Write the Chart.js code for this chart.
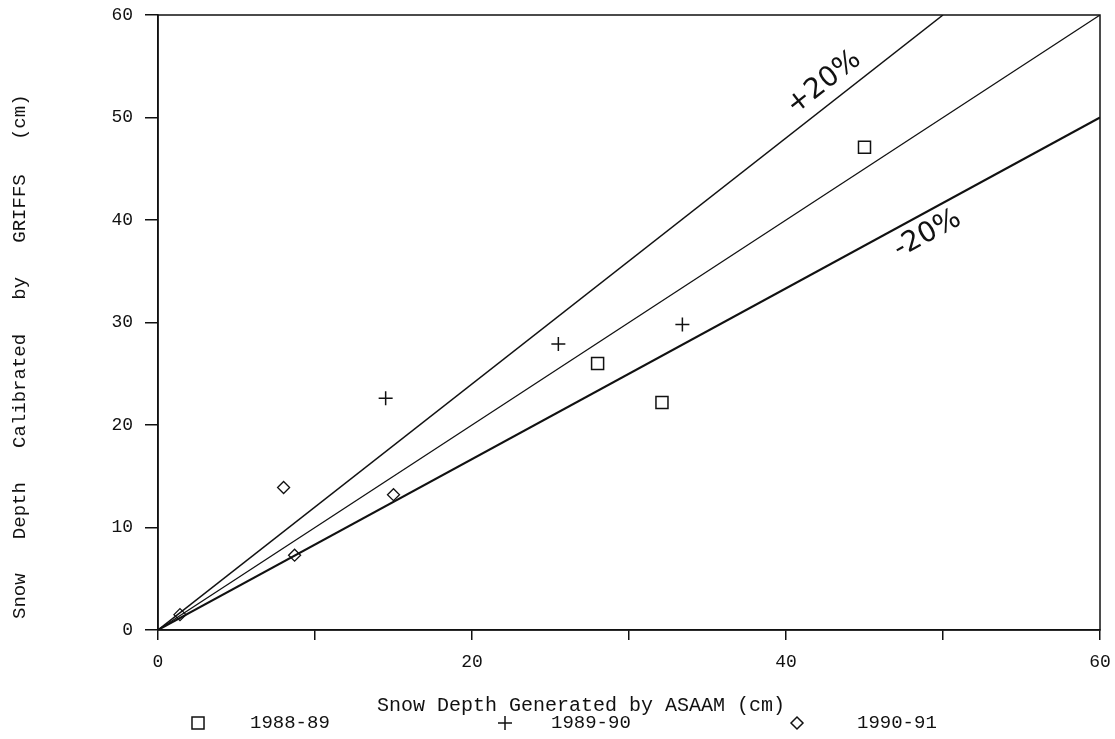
<!DOCTYPE html>
<html>
<head>
<meta charset="utf-8">
<script src="https://cdn.jsdelivr.net/npm/chart.js@4.4.0/dist/chart.umd.min.js"></script>
<style>
  body { margin: 0; background: #fff; }
  #wrap { width: 1115px; height: 739px; }
</style>
</head>
<body>
<div id="wrap"><canvas id="snowChart" width="1115" height="739"></canvas></div>
<script>
// series
var seasons = ['1988-89', '1989-90', '1990-91'];

var asaam8889 = [28.0, 32.1, 45.0];
var griffs8889 = [26.0, 22.2, 47.1];

var asaam8990 = [14.5, 25.5, 33.4];
var griffs8990 = [22.6, 27.9, 29.8];

var asaam9091 = [1.4, 8.0, 8.7, 15.0];
var griffs9091 = [1.5, 13.9, 7.3, 13.2];

// reference lines: 1:1, +20 %, -20 %
var oneToOneX = [0, 60];
var oneToOneY = [0, 60];
var plus20X = [0, 50];
var plus20Y = [0, 60];
var minus20X = [0, 60];
var minus20Y = [0, 50];

var lineLabels = ['+20%', '-20%'];
var lineLabelX = [43.2, 48.4];

var xTicks = [0, 20, 40, 60];
var yTicks = [0, 10, 20, 30, 40, 50, 60];

function toPoints(xs, ys) {
    return xs.map(function(x, i) { return { x: x, y: ys[i] }; });
}

var monoFont = "'Liberation Mono', 'DejaVu Sans Mono', monospace";

// closed frame round the plot
var framePlugin = {
    id: 'frame',
    afterDatasetsDraw: function(chart) {
        var a = chart.chartArea;
        var ctx = chart.ctx;
        ctx.save();
        ctx.strokeStyle = '#111';
        ctx.lineWidth = 1.5;
        ctx.strokeRect(a.left, a.top, a.right - a.left, a.bottom - a.top);
        ctx.restore();
    }
};

// rotated "+20%" / "-20%" labels set along their lines
var lineTextPlugin = {
    id: 'lineText',
    afterDatasetsDraw: function(chart) {
        var ctx = chart.ctx;
        var xs = chart.scales.x, ys = chart.scales.y;
        var lines = [[plus20X, plus20Y, -1], [minus20X, minus20Y, 1]];
        ctx.save();
        ctx.fillStyle = '#111';
        ctx.font = "28px 'DejaVu Sans', sans-serif";
        ctx.textAlign = 'center';
        ctx.textBaseline = 'middle';
        lines.forEach(function(l, i) {
            var slope = l[1][1] / l[0][1];
            var x0 = xs.getPixelForValue(0), y0 = ys.getPixelForValue(0);
            var x1 = xs.getPixelForValue(l[0][1]), y1 = ys.getPixelForValue(l[1][1]);
            var ang = Math.atan2(y1 - y0, x1 - x0);
            var px = xs.getPixelForValue(lineLabelX[i]);
            var py = ys.getPixelForValue(lineLabelX[i] * slope);
            var off = 20 * l[2];
            var nx = -Math.sin(ang) * off, ny = Math.cos(ang) * off;
            ctx.save();
            ctx.translate(px + nx, py + ny);
            ctx.rotate(ang);
            ctx.fillText(lineLabels[i], 0, 0);
            ctx.restore();
        });
        ctx.restore();
    }
};

// legend row under the x axis title
var legendPlugin = {
    id: 'rowLegend',
    afterDraw: function(chart) {
        var ctx = chart.ctx;
        var markX = [198, 505, 797];
        var textX = [250, 551, 857];
        var y = 723;
        ctx.save();
        ctx.font = '19px ' + monoFont;
        ctx.textBaseline = 'middle';
        for (var i = 0; i < 3; i++) {
            var ds = chart.data.datasets[i];
            ctx.strokeStyle = '#111';
            ctx.fillStyle = 'rgba(0,0,0,0)';
            ctx.lineWidth = 1.5;
            Chart.helpers.drawPoint(ctx, {
                pointStyle: ds.pointStyle,
                radius: ds.pointRadius,
                borderWidth: 1.5,
                rotation: 0
            }, markX[i], y);
            ctx.fillStyle = '#111';
            ctx.fillText(seasons[i], textX[i], y);
        }
        ctx.restore();
    }
};

var chart = new Chart(document.getElementById('snowChart'), {
    type: 'scatter',
    data: {
        datasets: [{
            label: seasons[0],
            data: toPoints(asaam8889, griffs8889),
            pointStyle: 'rect',
            pointRadius: 8.5,
            borderColor: '#111',
            backgroundColor: 'rgba(0,0,0,0)',
            borderWidth: 1.5
        },
        {
            label: seasons[1],
            data: toPoints(asaam8990, griffs8990),
            pointStyle: 'cross',
            pointRadius: 7,
            borderColor: '#111',
            borderWidth: 1.5
        },
        {
            label: seasons[2],
            data: toPoints(asaam9091, griffs9091),
            pointStyle: 'rectRot',
            pointRadius: 6,
            borderColor: '#111',
            backgroundColor: 'rgba(0,0,0,0)',
            borderWidth: 1.3
        },
        {
            label: '1:1',
            type: 'line',
            data: toPoints(oneToOneX, oneToOneY),
            borderColor: '#111',
            borderWidth: 1.2,
            pointRadius: 0
        },
        {
            label: '+20%',
            type: 'line',
            data: toPoints(plus20X, plus20Y),
            borderColor: '#111',
            borderWidth: 1.5,
            pointRadius: 0
        },
        {
            label: '-20%',
            type: 'line',
            data: toPoints(minus20X, minus20Y),
            borderColor: '#111',
            borderWidth: 2,
            pointRadius: 0
        }]
    },
    options: {
        responsive: false,
        animation: false,
        layout: { padding: { top: 15, right: 15, left: 0, bottom: 0 } },
        plugins: {
            legend: { display: false },
            tooltip: { enabled: false }
        },
        scales: {
            x: {
                type: 'linear',
                min: 0,
                max: 60,
                afterFit: function(scale) {
                    scale.height = 109;
                    scale.paddingLeft = 0;
                    scale.paddingRight = 0;
                },
                ticks: {
                    stepSize: 10,
                    color: '#111',
                    padding: 11,
                    font: { family: monoFont, size: 18 },
                    callback: function(v) { return xTicks.indexOf(v) >= 0 ? String(v) : ''; }
                },
                grid: { drawOnChartArea: false, drawTicks: true, tickLength: 10, color: '#111', lineWidth: 1.5 },
                border: { display: true, color: '#111', width: 1.5 },
                title: {
                    display: true,
                    text: 'Snow Depth Generated by ASAAM (cm)        ',
                    color: '#111',
                    font: { family: monoFont, size: 20, lineHeight: 1.2 },
                    padding: { top: 0, bottom: 21 }
                }
            },
            y: {
                type: 'linear',
                min: 0,
                max: 60,
                afterFit: function(scale) {
                    scale.width = 158;
                    scale.paddingTop = 0;
                    scale.paddingBottom = 0;
                },
                ticks: {
                    stepSize: 10,
                    color: '#111',
                    padding: 12,
                    font: { family: monoFont, size: 18 },
                    callback: function(v) { return yTicks.indexOf(v) >= 0 ? String(v) : ''; }
                },
                grid: { drawOnChartArea: false, drawTicks: true, tickLength: 13, color: '#111', lineWidth: 1.5 },
                border: { display: true, color: '#111', width: 1.5 },
                title: {
                    display: true,
                    text: 'Snow   Depth   Calibrated   by   GRIFFS   (cm)      ',
                    color: '#111',
                    font: { family: monoFont, size: 19, lineHeight: 1.2 },
                    padding: { top: 9, bottom: 0 }
                }
            }
        }
    },
    plugins: [framePlugin, lineTextPlugin, legendPlugin]
});
</script>
</body>
</html>
